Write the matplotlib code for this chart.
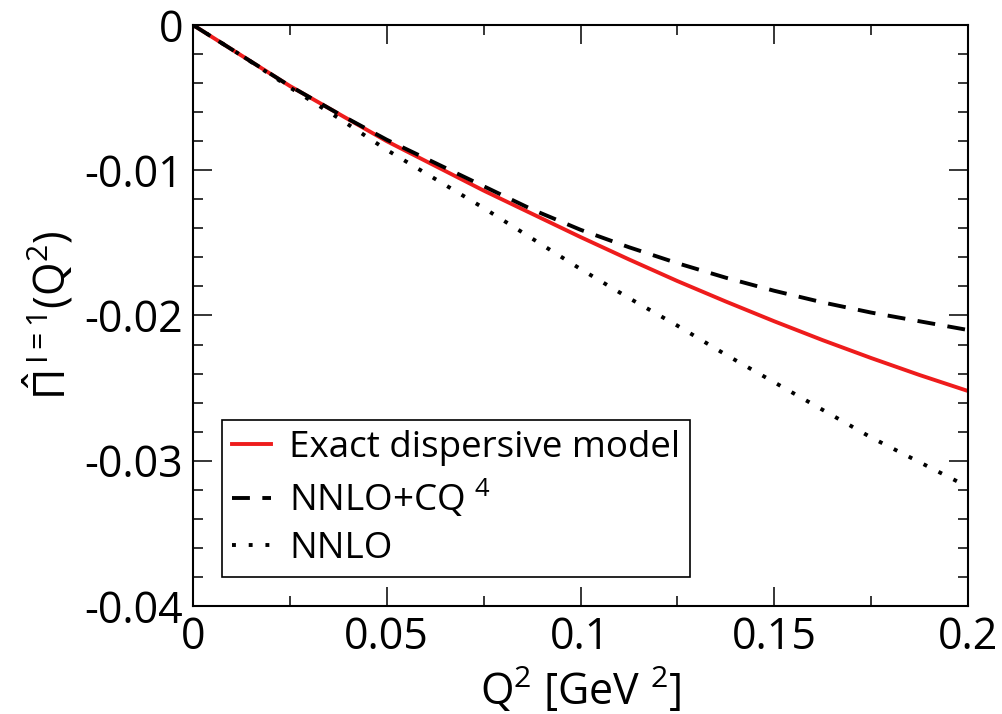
import matplotlib
matplotlib.use("Agg")
import matplotlib.pyplot as plt
from matplotlib.ticker import MultipleLocator

# values
q2 = [0.0, 0.0125, 0.025, 0.0375, 0.05, 0.0625, 0.075, 0.0875, 0.1,
      0.1125, 0.125, 0.1375, 0.15, 0.1625, 0.175, 0.1875, 0.2]
exact = [0.0, -0.0021, -0.0042, -0.0061, -0.0080, -0.0097, -0.0114, -0.0130, -0.0146,
         -0.01614, -0.01763, -0.01904, -0.0204, -0.0217, -0.02293, -0.0241, -0.0252]
nnlo_cq4 = [0.0, -0.0021, -0.0042, -0.0061, -0.0079, -0.0095, -0.0111, -0.0127, -0.0141,
            -0.0153, -0.0164, -0.0174, -0.0183, -0.0191, -0.0198, -0.0204, -0.0210]
nnlo = [0.0, -0.0021, -0.0043, -0.0064, -0.0086, -0.0106, -0.0126, -0.0147, -0.0168,
        -0.0188, -0.0207, -0.0227, -0.0246, -0.0265, -0.0284, -0.0301, -0.0318]

labels = ["Exact dispersive model", r"NNLO+CQ $^{4}$", "NNLO"]
xticks = [0, 0.05, 0.1, 0.15, 0.2]
xtick_labels = ["0", "0.05", "0.1", "0.15", "0.2"]
yticks = [-0.04, -0.03, -0.02, -0.01, 0]
ytick_labels = ["-0.04", "-0.03", "-0.02", "-0.01", "0"]

plt.rcParams['font.family'] = ['Open Sans', 'DejaVu Sans']
plt.rcParams['mathtext.fontset'] = 'custom'
plt.rcParams['mathtext.rm'] = 'Open Sans'
plt.rcParams['mathtext.it'] = 'Open Sans'
plt.rcParams['mathtext.default'] = 'regular'

fig = plt.figure(figsize=(10.02, 7.14), dpi=100)
ax = fig.add_axes([0.1926, 0.1513, 0.7735, 0.8137])

ax.plot(q2, exact, color="#ee1c1c", lw=2.8, label=labels[0])
ax.plot(q2, nnlo_cq4, color="black", lw=2.8, dashes=(4.6, 3.2), label=labels[1])
ax.plot(q2, nnlo, color="black", lw=2.8, dashes=(1, 3.3), dash_capstyle="butt", label=labels[2])

ax.set_xlim(0, 0.2)
ax.set_ylim(-0.04, 0)
ax.set_xticks(xticks, xtick_labels)
ax.set_yticks(yticks, ytick_labels)
ax.xaxis.set_minor_locator(MultipleLocator(0.025))
ax.yaxis.set_minor_locator(MultipleLocator(0.002))

ax.tick_params(which="both", direction="in", top=True, right=True, width=1.1, labelsize=31, pad=7)
ax.tick_params(which="major", length=13.5)
ax.tick_params(which="minor", length=7)
for s in ax.spines.values():
    s.set_linewidth(1.5)

ax.set_xlabel(r"Q$^{2}$ [GeV $^{2}$]", fontsize=31, labelpad=4)
ax.set_ylabel(r"$\hat{\Pi}^{\,I{=}1}$(Q$^{2}$)", fontsize=31, labelpad=6)

leg = ax.legend(loc="lower left", bbox_to_anchor=(0.037, 0.05), borderaxespad=0,
                fontsize=26.5, handlelength=1.05, handletextpad=0.5, borderpad=0.28,
                labelspacing=0.3, fancybox=False, framealpha=1)
leg.get_frame().set_edgecolor("black")
leg.get_frame().set_linewidth(1.2)

fig.savefig("out.png", dpi=100)
